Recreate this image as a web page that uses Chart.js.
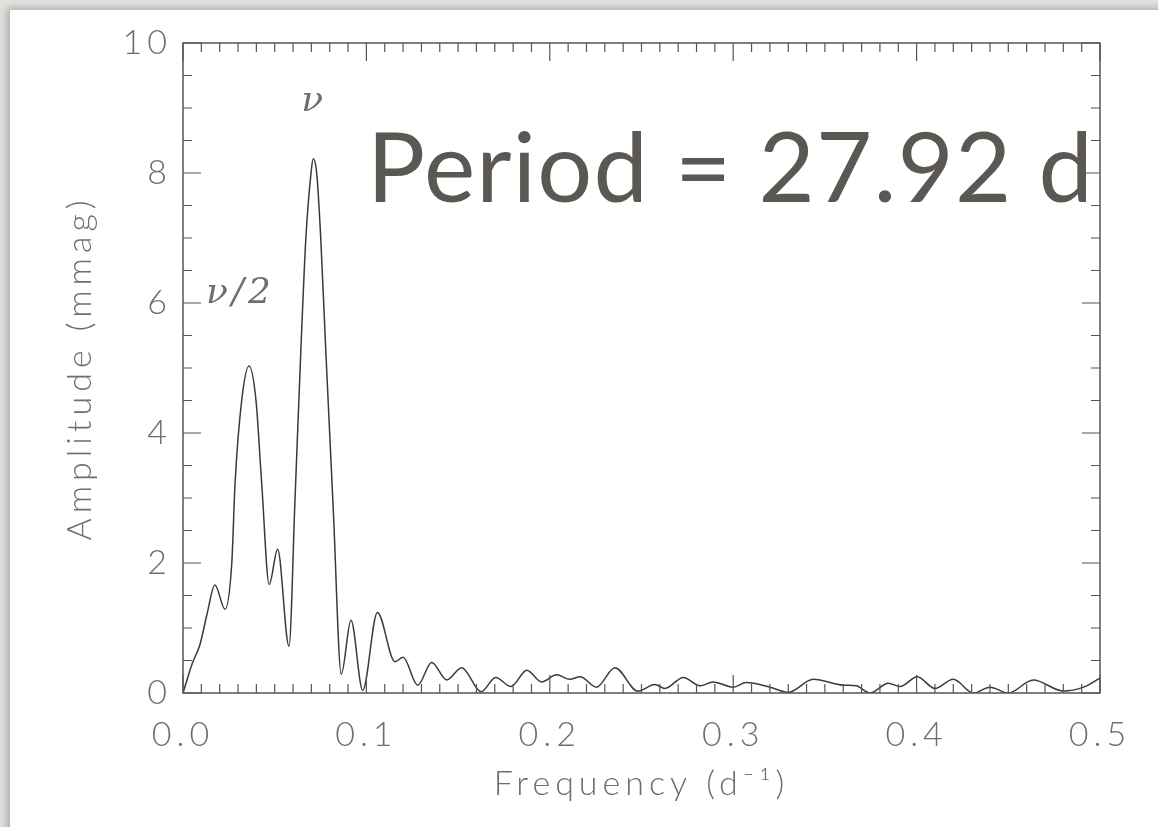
<!DOCTYPE html>
<html>
<head>
<meta charset="utf-8">
<script src="https://cdn.jsdelivr.net/npm/chart.js@4"></script>
<style>
  body { margin: 0; width: 1158px; height: 827px; overflow: hidden; background: #e4e2de; position: relative; }
  #card { position: absolute; left: 10px; top: 10px; width: 1170px; height: 840px; background: #fff; box-shadow: -3px -2px 8px rgba(0,0,0,0.25); }
  #chart { position: absolute; left: 0; top: 0; }
  #period { position: absolute; left: 367px; top: 107px; font-family: Lato, "Noto Sans", sans-serif; font-size: 97px; letter-spacing: 1.2px; color: #5b5752; white-space: nowrap; line-height: 1.2; }
</style>
</head>
<body>
<div id="card"></div>
<canvas id="chart" width="1158" height="827"></canvas>
<div id="period">Period = 27.92 d</div>
<script>
/* DATA */
const freq = [
  0.000, 0.005, 0.0093, 0.013, 0.0174, 0.0229, 0.0266, 0.0284, 0.032, 0.036,
  0.0398, 0.0429, 0.047, 0.0516, 0.0578, 0.0611, 0.0643, 0.067, 0.0698, 0.071,
  0.0729, 0.0751, 0.0778, 0.082, 0.0863, 0.0916, 0.098, 0.106, 0.1156, 0.120,
  0.128, 0.1356, 0.1438, 0.152, 0.1625, 0.1705, 0.1788, 0.1875, 0.1955, 0.2037,
  0.211, 0.2165, 0.2255, 0.2355, 0.248, 0.2573, 0.2628, 0.2728, 0.282, 0.289,
  0.300, 0.307, 0.320, 0.330, 0.3437, 0.360, 0.367, 0.3746, 0.3846, 0.391,
  0.4004, 0.410, 0.420, 0.431, 0.440, 0.450, 0.4636, 0.480, 0.491, 0.500
];
const amplitude = [
  0.00, 0.45, 0.75, 1.20, 1.66, 1.29, 2.00, 3.23, 4.50, 5.03,
  4.50, 3.23, 1.67, 2.21, 0.72, 3.00, 5.30, 7.00, 8.00, 8.22,
  8.00, 7.00, 5.30, 2.78, 0.29, 1.12, 0.04, 1.24, 0.48, 0.55,
  0.12, 0.47, 0.20, 0.39, 0.02, 0.24, 0.10, 0.35, 0.17, 0.28,
  0.21, 0.25, 0.09, 0.39, 0.03, 0.13, 0.07, 0.24, 0.11, 0.17,
  0.09, 0.16, 0.09, 0.01, 0.21, 0.12, 0.11, 0.00, 0.15, 0.10,
  0.25, 0.07, 0.21, 0.00, 0.09, 0.00, 0.20, 0.03, 0.09, 0.23
];
const xTicks = [0.0, 0.1, 0.2, 0.3, 0.4, 0.5];
const yTicks = [0, 2, 4, 6, 8, 10];
const peakLabels = [
  { text: "\u03bd", x: 0.0715, y: 9.1, align: "center" },
  { text: "\u03bd/2", x: 0.0125, y: 6.15, align: "left" }
];

const axisColor = "#555";
const textColor = "#6e6e6e";
const tickFont = { family: "Lato, 'DejaVu Sans', sans-serif", size: 34, weight: "300" };

/* INWARD TICKS, FRAME AND PEAK LABELS */
const frameTicks = {
  id: "frameTicks",
  beforeDraw(chart) {
    chart.ctx.letterSpacing = "5px";
  },
  afterDraw(chart) {
    const { ctx, chartArea: a, scales: { x, y } } = chart;
    ctx.save();
    ctx.letterSpacing = "0px";
    ctx.strokeStyle = axisColor;
    ctx.lineWidth = 1.5;
    ctx.strokeRect(a.left, a.top, a.right - a.left, a.bottom - a.top);

    ctx.beginPath();
    for (let i = 0; i <= 50; i++) {
      const px = x.getPixelForValue(i / 100);
      const len = i % 10 === 0 ? 18 : 9;
      ctx.moveTo(px, a.bottom);
      ctx.lineTo(px, a.bottom - len);
      ctx.moveTo(px, a.top);
      ctx.lineTo(px, a.top + len);
    }
    for (let i = 0; i <= 20; i++) {
      const py = y.getPixelForValue(i / 2);
      const len = i % 4 === 0 ? 18 : 9;
      ctx.moveTo(a.left, py);
      ctx.lineTo(a.left + len, py);
      ctx.moveTo(a.right, py);
      ctx.lineTo(a.right - len, py);
    }
    ctx.lineWidth = 1.2;
    ctx.stroke();

    ctx.fillStyle = textColor;
    ctx.textBaseline = "middle";
    ctx.letterSpacing = "4px";
    ctx.font = "italic 300 36px 'DejaVu Serif', serif";
    peakLabels.forEach(l => {
      ctx.textAlign = l.align;
      ctx.fillText(l.text, x.getPixelForValue(l.x), y.getPixelForValue(l.y));
    });
    ctx.restore();
  }
};

new Chart(document.getElementById("chart"), {
  type: "line",
  data: {
    datasets: [{
      data: freq.map((f, i) => ({ x: f, y: amplitude[i] })),
      borderColor: "#3a3a3a",
      borderWidth: 1.5,
      pointRadius: 0,
      cubicInterpolationMode: "monotone",
      fill: false
    }]
  },
  options: {
    responsive: false,
    animation: false,
    layout: { padding: { top: 43, right: 58, left: 0, bottom: 0 } },
    plugins: { legend: { display: false }, tooltip: { enabled: false } },
    scales: {
      x: {
        type: "linear",
        min: 0,
        max: 0.5,
        afterFit(scale) { scale.height = 134; },
        afterBuildTicks(scale) { scale.ticks = xTicks.map(v => ({ value: v })); },
        grid: { display: false, drawTicks: false },
        border: { display: false },
        ticks: {
          color: textColor,
          font: tickFont,
          padding: 22,
          maxRotation: 0,
          callback: v => v.toFixed(1)
        },
        title: {
          display: true,
          text: "Frequency (d\u207b\u00b9)",
          color: textColor,
          font: tickFont,
          padding: { top: 0, bottom: 23 }
        }
      },
      y: {
        min: 0,
        max: 10,
        afterFit(scale) { scale.width = 183; },
        afterBuildTicks(scale) { scale.ticks = yTicks.map(v => ({ value: v })); },
        grid: { display: false, drawTicks: false },
        border: { display: false },
        ticks: {
          color: textColor,
          font: tickFont,
          padding: 11
        },
        title: {
          display: true,
          text: "Amplitude (mmag)",
          color: textColor,
          font: tickFont,
          padding: { top: 60, bottom: 0 }
        }
      }
    }
  },
  plugins: [frameTicks]
});
</script>
</body>
</html>
